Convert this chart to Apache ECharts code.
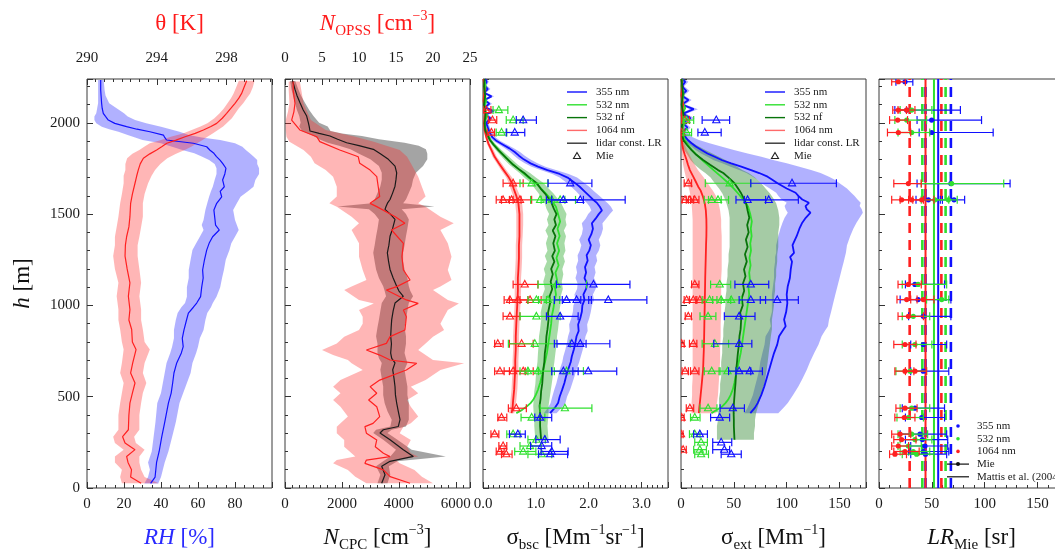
<!DOCTYPE html>
<html>
<head>
<meta charset="utf-8">
<script src="https://cdn.jsdelivr.net/npm/echarts@6/dist/echarts.min.js"></script>
<style>
html, body { margin: 0; padding: 0; background: #ffffff; }
#chart { width: 1055px; height: 553px; }
</style>
</head>
<body>
<div id="chart"></div>
<script>
// ---------- tick labels ----------
const heightTicks = [0, 500, 1000, 1500, 2000];
const rhTicks = [0, 20, 40, 60, 80];
const thetaTicks = [290, 294, 298];
const cpcTicks = [0, 2000, 4000, 6000];
const opssTicks = [0, 5, 10, 15, 20, 25];
const bscTicks = [0, 1, 2, 3];
const extTicks = [0, 50, 100, 150];
const lrTicks = [0, 50, 100, 150];

// ---------- meteorological profiles: [h, value, low, high] ----------
const rhProfile = [
  [25,34.4,31,38.5],[60,36.8,33,40],[100,37.2,34,41],[140,37.6,33,42],[200,39.0,35,44],
  [280,40.4,36,46],[360,42.0,37,48],[465,44.0,38,50],[520,45.5,40,52],[575,46.3,41,54],
  [630,47.0,42,56],[685,48.5,43,57],[740,51.0,45,59],[774,52.0,46,60],[820,51.5,47,61],
  [865,52.4,47,63],[920,53.8,48,64],[958,54.8,49,65],[990,57.5,51,67],[1013,59.3,53,68],
  [1048,61.4,54,70],[1100,62.0,54,72],[1150,62.8,55,73],[1194,62.5,55,74],[1250,63.5,56,75],
  [1303,64.7,57,77],[1340,66.0,59,78],[1376,67.9,61,80],[1413,71.5,63,82],[1440,69.5,62,81],
  [1468,69.2,63,80],[1522,68.6,64,79],[1559,70.1,65,81],[1595,72.8,66,83],[1625,72.0,67,87],
  [1650,74.2,68,90],[1687,73.3,69,91],[1720,74.5,70,93],[1751,75.1,70,93],[1775,73.5,69,92],
  [1796,71.9,66,92],[1815,70.0,62,90],[1833,68.6,58,88],[1850,66.5,52,86],[1869,64.7,46,84],
  [1888,57.5,40,80],[1906,43.0,30,72],[1920,42.0,26,62],[1933,41.3,22,55],[1951,34.0,17,50],
  [1965,27.0,12,45],[1979,21.4,8,40],[1997,15.0,5,32],[2015,11.5,4,26],[2035,10.0,4,22],
  [2052,8.8,5,20],[2080,8.2,5.5,16],[2107,7.9,6,12],[2150,7.6,6,10],[2180,7.4,6,9.5],[2234,7.4,6,9]
];
const thetaProfile = [
  [26,293.1,292.0,294.1],[60,292.5,291.9,293.3],[100,292.55,292.0,293.1],[140,292.35,291.6,293.0],
  [173,292.27,291.6,293.0],[210,292.75,292.1,293.3],[246,292.18,291.6,292.8],[281,292.04,291.5,292.7],
  [319,292.37,291.8,293.0],[400,292.4,291.8,293.0],[465,292.46,291.9,293.1],[520,292.6,292.0,293.2],
  [575,292.75,292.1,293.4],[630,292.5,291.9,293.2],[685,292.62,292.0,293.3],[758,292.81,292.1,293.6],
  [800,292.6,292.0,293.3],[868,292.56,291.9,293.2],[920,292.4,291.8,293.1],[977,292.46,291.8,293.1],
  [1050,292.37,291.7,293.0],[1124,292.46,291.8,293.1],[1200,292.3,291.6,293.0],[1270,292.18,291.5,292.9],
  [1330,292.2,291.6,292.9],[1376,292.27,291.6,293.0],[1430,292.4,291.7,293.1],[1486,292.46,291.8,293.2],
  [1559,292.5,291.9,293.2],[1610,292.6,292.0,293.3],[1669,292.75,292.1,293.5],[1710,292.85,292.1,293.7],
  [1742,292.94,292.2,293.9],[1775,293.05,292.2,294.2],[1806,293.23,292.3,294.6],[1830,293.6,292.6,295.1],
  [1851,293.99,293.0,295.6],[1870,294.3,293.3,296.0],[1888,294.57,293.6,296.3],[1905,295.1,294.2,296.6],
  [1924,295.62,294.8,296.9],[1942,296.2,295.5,297.2],[1961,296.67,296.0,297.5],[1980,297.1,296.5,297.8],
  [1997,297.43,296.9,298.0],[2025,297.75,297.3,298.3],[2052,298.0,297.6,298.5],[2080,298.25,297.85,298.7],
  [2107,298.48,298.05,298.95],[2135,298.7,298.25,299.15],[2161,298.86,298.4,299.35],[2195,299.0,298.55,299.5],
  [2230,299.15,298.7,299.6]
];
const cpcProfile = [
  [26,3397,3250,3600],[73,3514,3350,3700],[119,3397,3200,3650],[146,3690,3450,3950],[173,4509,3700,5650],
  [210,4157,3900,4450],[264,3690,3450,3950],[301,3338,3100,3600],[319,3455,3200,3750],[337,3982,3700,4250],
  [374,4041,3750,4350],[420,3980,3600,4350],[465,3924,3500,4350],[510,3880,3450,4300],[556,3865,3450,4300],
  [600,3830,3400,4250],[648,3784,3350,4200],[685,3865,3400,4300],[710,3750,3300,4250],[739,3713,3250,4200],
  [790,3740,3250,4250],[831,3713,3200,4250],[880,3730,3250,4200],[922,3749,3300,4250],[970,3800,3350,4300],
  [1013,3865,3400,4350],[1050,4157,3550,4500],[1080,4000,3500,4400],[1105,3924,3450,4350],[1150,3800,3300,4300],
  [1197,3690,3200,4200],[1240,3640,3150,4150],[1288,3596,3100,4150],[1330,3650,3150,4200],[1379,3690,3200,4250],
  [1420,3780,3250,4300],[1471,3865,3300,4350],[1500,3700,3150,4250],[1526,3514,2950,4100],[1542,3550,1850,5250],
  [1560,3600,3050,4150],[1580,3690,3150,4250],[1615,3780,3250,4350],[1653,3865,3350,4450],[1690,3900,3400,4500],
  [1726,3924,3400,4600],[1763,3865,3300,4850],[1800,3631,3000,5000],[1830,3350,2600,5000],[1855,3104,2300,4950],
  [1875,2600,1900,4700],[1891,2166,1500,4200],[1910,1850,1200,3300],[1928,1581,1000,2700],[1942,1200,800,2000],
  [1955,878,600,1600],[1980,850,500,1500],[2001,820,550,1200],[2037,761,500,1000],[2070,640,420,850],
  [2110,527,350,700],[2150,420,280,560],[2183,351,230,470],[2229,269,180,360]
];
const opssProfile = [
  [26,16.9,11,20],[62,14.2,9.5,18.5],[99,13.3,8.5,17.5],[135,10.8,6.5,15.5],[153,11.0,7,15],
  [172,14.2,9.5,18],[190,13.3,9,17],[226,12.2,8,16.5],[263,12.4,8,17],[300,11.0,7,15.5],
  [336,10.8,7,16],[354,11.9,7.5,17],[391,12.8,8.5,18],[445,12.4,7.5,17],[482,11.3,6.5,16.5],
  [519,12.4,7.5,18],[555,11.5,6.5,17],[591,12.8,7.5,19],[646,16.4,10.5,21],[683,17.8,9,24.2],
  [701,14.2,8.5,20],[728,12.8,6.5,19],[756,11.0,5,18],[792,13.7,7,19],[829,14.2,8,20],
  [865,16.2,10,21.5],[900,16.3,10.5,21],[938,16.4,10.5,21.5],[975,16.0,10,22],[1011,18.0,12,23.5],
  [1030,16.4,10,22],[1084,13.7,8,20],[1103,15.1,9,21],[1139,16.9,11,22.5],[1194,16.0,10.5,22],
  [1267,15.8,10,22.5],[1340,16.0,10,22],[1413,14.4,9,21],[1450,16.2,10,22.8],[1486,14.9,9,21],
  [1541,12.4,7,19],[1559,11.5,6,18],[1596,12.8,7,19],[1650,12.6,7,18.5],[1705,12.4,6.5,18],
  [1741,11.5,5.5,17.5],[1778,10.1,4,17],[1814,9.9,3.5,16.5],[1851,7.4,2.5,15.5],[1897,4.7,0.6,12],
  [1924,4.3,0.2,9.5],[1961,2.0,0.1,5.5],[2015,0.9,0.1,3.5],[2060,1.2,0.4,3],[2107,1.35,0.6,2.5],
  [2180,1.1,0.5,2.2],[2226,1.1,0.5,2]
];

// ---------- lidar backscatter [h, value, low, high] in Mm-1 sr-1 ----------
const bsc355 = [
  [410,1.27,1.15,1.39],[440,1.36,1.23,1.49],[465,1.42,1.28,1.56],[500,1.45,1.31,1.59],[540,1.50,1.35,1.65],
  [575,1.54,1.39,1.69],[610,1.57,1.42,1.73],[648,1.61,1.45,1.77],[690,1.66,1.50,1.82],[720,1.68,1.52,1.85],
  [760,1.72,1.56,1.89],[800,1.75,1.59,1.92],[831,1.77,1.61,1.94],[860,1.81,1.64,1.98],[895,1.80,1.63,1.97],
  [930,1.84,1.67,2.01],[965,1.87,1.70,2.04],[1000,1.88,1.71,2.06],[1030,1.92,1.75,2.10],[1060,1.90,1.73,2.08],
  [1090,1.95,1.78,2.13],[1120,1.97,1.79,2.15],[1150,1.92,1.75,2.10],[1180,1.95,1.78,2.13],[1210,1.93,1.76,2.11],
  [1245,1.98,1.80,2.16],[1275,1.96,1.79,2.14],[1300,2.01,1.83,2.19],[1330,2.04,1.86,2.22],[1360,2.00,1.82,2.19],
  [1390,2.05,1.87,2.24],[1420,2.08,1.89,2.27],[1450,2.06,1.87,2.26],[1475,2.13,1.94,2.33],[1500,2.19,1.99,2.40],
  [1520,2.25,2.05,2.46],[1540,2.21,2.02,2.42],[1560,2.16,1.97,2.36],[1580,2.08,1.90,2.28],[1600,2.01,1.84,2.20],
  [1625,1.92,1.76,2.10],[1650,1.83,1.67,2.01],[1675,1.72,1.57,1.90],[1700,1.60,1.45,1.78],[1720,1.45,1.31,1.62],
  [1741,1.22,1.09,1.38],[1760,1.04,0.92,1.18],[1778,0.90,0.79,1.03],[1800,0.77,0.67,0.89],[1820,0.68,0.59,0.79],
  [1840,0.60,0.51,0.70],[1860,0.50,0.42,0.59],[1880,0.38,0.31,0.46],[1900,0.26,0.20,0.33],[1920,0.18,0.13,0.24],
  [1945,0.13,0.09,0.18],[1975,0.09,0.05,0.13],[2000,0.06,0.02,0.10],[2025,0.14,0.09,0.19],[2045,0.05,0.01,0.09],
  [2065,0.20,0.14,0.26],[2085,0.04,0.00,0.08],[2105,0.12,0.07,0.17],[2125,0.03,0.00,0.07],[2145,0.16,0.11,0.21],
  [2165,0.02,0.00,0.06],[2185,0.09,0.04,0.14],[2205,0.03,0.00,0.07],[2225,0.07,0.03,0.11],[2240,0.04,0.00,0.08]
];
const bsc532nf = [
  [264,1.10,0.99,1.24],[300,1.09,0.98,1.23],[340,1.08,0.97,1.22],[374,1.08,0.97,1.23],[410,1.08,0.96,1.24],
  [450,1.07,0.95,1.24],[490,1.09,0.96,1.26],[530,1.10,0.97,1.28],[570,1.12,0.99,1.30],[610,1.13,1.00,1.32],
  [648,1.14,1.01,1.33],[690,1.16,1.03,1.35],[739,1.17,1.04,1.37],[780,1.19,1.05,1.39],[831,1.20,1.06,1.40],
  [870,1.22,1.08,1.42],[922,1.24,1.10,1.44],[960,1.23,1.09,1.44],[1013,1.27,1.13,1.47],[1050,1.26,1.12,1.47],
  [1090,1.31,1.17,1.51],[1130,1.28,1.14,1.49],[1170,1.32,1.18,1.52],[1200,1.29,1.15,1.50],[1240,1.35,1.21,1.55],
  [1270,1.31,1.17,1.52],[1300,1.36,1.22,1.56],[1340,1.33,1.19,1.54],[1379,1.37,1.23,1.57],[1410,1.32,1.18,1.53],
  [1440,1.38,1.24,1.58],[1471,1.35,1.21,1.56],[1500,1.39,1.25,1.58],[1530,1.34,1.20,1.53],[1559,1.30,1.17,1.48],
  [1585,1.24,1.11,1.41],[1614,1.17,1.05,1.33],[1640,1.09,0.98,1.24],[1669,1.02,0.91,1.15],[1700,0.88,0.78,1.00],
  [1725,0.78,0.69,0.89],[1741,0.70,0.62,0.80],[1770,0.57,0.50,0.66],[1796,0.48,0.41,0.56],[1825,0.38,0.32,0.45],
  [1851,0.29,0.24,0.35],[1880,0.20,0.16,0.25],[1906,0.13,0.10,0.17],[1935,0.08,0.05,0.11],[1961,0.04,0.02,0.07],
  [2000,0.03,0.01,0.05],[2050,0.05,0.02,0.08],[2100,0.02,0.00,0.04],[2150,0.04,0.01,0.07],[2200,0.02,0.00,0.04],
  [2240,0.03,0.01,0.05]
];
const bsc532 = [
  [410,0.63],[428,0.74],[447,0.83],[465,0.90],[483,0.95],[510,1.00],[538,1.04],[575,1.08],[620,1.12],
  [660,1.15],[700,1.18],[740,1.21],[780,1.23],[820,1.25],[860,1.27],[900,1.29],[940,1.30],[980,1.33],
  [1020,1.35],[1060,1.38],[1100,1.36],[1140,1.40],[1180,1.37],[1220,1.43],[1260,1.39],[1300,1.44],
  [1340,1.40],[1380,1.45],[1420,1.41],[1460,1.46],[1500,1.42],[1540,1.38],[1575,1.30],[1610,1.20],
  [1640,1.10],[1669,1.00],[1700,0.86],[1730,0.74],[1760,0.62],[1790,0.50],[1820,0.40],[1850,0.30],
  [1880,0.21],[1906,0.14],[1935,0.09],[1965,0.05],[2000,0.03],[2040,0.08],[2080,0.02],[2120,0.06],
  [2160,0.02],[2200,0.05],[2240,0.02]
];
const bsc1064 = [
  [410,0.54,0.49,0.59],[440,0.56,0.51,0.61],[480,0.57,0.52,0.63],[540,0.59,0.54,0.65],[600,0.60,0.55,0.66],
  [648,0.61,0.56,0.67],[700,0.61,0.56,0.67],[760,0.62,0.57,0.68],[831,0.62,0.57,0.68],[900,0.63,0.58,0.69],
  [960,0.64,0.59,0.70],[1013,0.65,0.60,0.71],[1080,0.66,0.60,0.72],[1150,0.66,0.60,0.72],[1197,0.67,0.61,0.73],
  [1260,0.68,0.62,0.74],[1330,0.68,0.62,0.74],[1379,0.69,0.63,0.75],[1440,0.69,0.63,0.76],[1500,0.69,0.63,0.76],
  [1559,0.67,0.61,0.74],[1600,0.63,0.57,0.70],[1640,0.58,0.52,0.64],[1669,0.55,0.49,0.61],[1700,0.49,0.44,0.55],
  [1741,0.39,0.34,0.44],[1778,0.30,0.26,0.35],[1814,0.22,0.18,0.26],[1851,0.16,0.13,0.20],[1888,0.10,0.07,0.13],
  [1924,0.06,0.04,0.08],[1961,0.03,0.01,0.05],[2000,0.02,0.00,0.04],[2060,0.04,0.02,0.06],[2120,0.01,0.00,0.03],
  [2180,0.03,0.01,0.05],[2240,0.01,0.00,0.03]
];

// ---------- lidar extinction [h, value, low, high] in Mm-1 ----------
const ext355 = [
  [410,65.6,60,92],[440,70.0,63,97],[465,72.5,65,101],[510,76.0,68,106],[556,78.8,70,111],[600,81.0,72,115],
  [648,83.4,74,119],[690,85.5,75,122],[739,88.0,77,126],[785,91.0,79,130],[831,92.8,80,133],[860,96.0,83,136],
  [886,99.0,85,139],[922,97.5,84,140],[965,99.5,86,142],[1013,100.6,86,144],[1060,100.0,86,146],[1105,101.0,87,148],
  [1150,103.0,88,150],[1197,103.8,88,152],[1240,105.0,89,154],[1265,103.2,89,155],[1288,106.9,90,156],[1330,105.5,90,157],
  [1379,109.4,92,160],[1420,112.0,94,163],[1453,114.7,96,166],[1480,118.0,98,169],[1508,122.5,101,172],[1526,119.0,99,171],
  [1544,117.8,98,169],[1562,121.0,100,170],[1580,114.7,95,167],[1600,111.0,92,164],[1617,108.4,90,161],[1640,100.0,84,157],
  [1669,91.3,76,150],[1690,86.0,72,145],[1705,81.9,68,140],[1725,74.0,62,132],[1741,66.3,55,123],[1760,57.0,47,112],
  [1778,47.5,39,100],[1795,39.0,31,88],[1814,31.9,25,76],[1832,25.0,19,63],[1851,19.4,14,50],[1870,14.0,10,38],
  [1888,10.0,6,27],[1906,6.5,3,17],[1924,3.8,1,10],[1950,2.0,0,5],[1975,6.0,2,9],[2000,1.5,0,4],
  [2025,9.0,5,13],[2050,2.0,0,5],[2075,12.0,8,16],[2100,1.0,0,4],[2125,7.0,3,10],[2150,0.5,0,3],
  [2175,5.0,2,8],[2200,1.0,0,3],[2225,4.0,1,7],[2240,1.0,0,3]
];
const ext532nf = [
  [264,50.6,34,69],[300,50.3,34,69],[340,50.0,34,70],[374,50.0,35,70],[410,49.8,35,71],[450,49.9,36,73],
  [490,50.4,36,75],[530,50.9,37,77],[570,51.5,37,79],[610,51.9,38,80],[648,52.2,38,81],[690,53.0,38,82],
  [739,53.8,39,83],[785,54.8,39,84],[831,55.3,40,85],[870,56.4,40,86],[922,56.9,41,86],[960,56.0,41,87],
  [1000,58.4,42,88],[1040,57.5,42,88],[1080,59.8,43,89],[1120,58.6,43,89],[1160,61.0,44,90],[1197,59.6,44,90],
  [1240,62.2,45,91],[1280,60.5,45,91],[1320,63.0,46,92],[1360,61.4,46,92],[1400,64.0,46,92],[1440,62.6,46,93],
  [1480,64.6,46,93],[1520,63.0,45,92],[1559,61.6,43,90],[1590,59.0,41,87],[1614,56.9,39,84],[1640,54.0,36,80],
  [1669,50.6,32,76],[1700,45.0,28,70],[1725,40.0,23,64],[1741,35.0,19,58],[1770,27.5,13,50],[1796,20.9,9,42],
  [1825,14.5,6,32],[1851,10.0,3,23],[1880,5.5,1,14],[1906,2.2,0,7],[1940,1.0,0,4],[1980,0.8,0,3],
  [2040,2.5,0.5,5],[2100,0.6,0,2.5],[2160,1.8,0.3,3.5],[2240,0.5,0,2]
];
const ext532 = [
  [410,28.8],[428,34],[447,39],[465,42],[483,44.5],[510,47],[540,49],[575,50.5],[620,52],[660,53.5],
  [700,55],[740,56.5],[780,57.5],[820,58.5],[860,59.5],[900,60.5],[940,61.5],[980,62.5],[1020,63.5],
  [1060,64.5],[1100,63.8],[1140,65.2],[1180,64.5],[1220,65.8],[1260,64.8],[1300,66.2],[1340,65.5],
  [1380,66.8],[1420,66],[1460,67],[1500,65.5],[1540,63.5],[1575,59.5],[1610,54.5],[1640,50],[1669,45],
  [1700,39],[1730,33],[1760,27],[1790,21],[1820,15.5],[1850,10.5],[1880,6.5],[1906,3.5],[1935,1.8],
  [1965,1],[2000,3.5],[2040,0.5],[2080,4],[2120,1],[2160,2.5],[2200,0.5],[2240,1.5]
];
const ext1064 = [
  [410,16.9,10,33],[440,17.3,10,33.5],[465,17.8,10,34],[510,18.6,10.5,35],[556,19.4,10.5,35.5],[600,20.1,11,36],
  [648,20.9,11,36.5],[700,21.2,11,37],[760,21.6,11,37],[831,21.9,11,37.5],[900,22.1,11,37.5],[960,22.3,11,38],
  [1013,22.5,11,38],[1080,22.7,11,38],[1150,22.9,11,38],[1197,23.1,11,38.5],[1260,23.4,11,38.5],[1330,23.7,11,38.5],
  [1379,24.0,11,38.5],[1430,24.1,11,38],[1471,24.0,11,38],[1520,23.5,10.5,37],[1559,22.5,10,35.5],[1600,20.5,9,33],
  [1630,18.5,8,30],[1650,16.3,7,27.5],[1680,13.8,5.5,24],[1705,11.6,4.5,21],[1741,8.4,3,16],[1770,6.6,2,13],
  [1796,5.3,1.5,10.5],[1825,3.6,1,8],[1851,2.2,0.5,5.5],[1880,1.2,0,3.5],[1906,0.6,0,2],[1950,0.4,0,1.5],
  [2000,1.5,0,3],[2050,0.5,0,2],[2100,2.0,0.5,3.5],[2150,0.3,0,1.5],[2200,1.2,0,2.5],[2240,0.5,0,1.5]
];

// ---------- Mie calculations [h, value, low, high] ----------
const mieBsc355 = [
  [2015,0.76,0.63,1.01],[1947,0.60,0.44,0.79],[1669,1.65,1.23,2.06],[1578,1.52,1.20,1.90],[1578,1.84,1.30,2.69],
  [1115,2.09,1.39,2.78],[1030,1.58,1.35,1.85],[1030,1.77,1.50,2.05],[1030,2.37,2.00,3.10],[940,1.46,1.20,1.80],
  [790,1.68,1.40,1.95],[790,1.84,1.35,2.40],[640,1.52,1.30,1.80],[640,1.99,1.70,2.53],[386,1.08,0.98,1.30],
  [295,0.66,0.50,0.80],[265,1.17,1.00,1.46],[230,1.11,0.90,1.30],[200,1.30,1.10,1.61],[185,1.27,1.05,1.60]
];
const mieBsc532 = [
  [2070,0.30,0.19,0.47],[2015,0.57,0.44,0.76],[1947,0.35,0.25,0.45],[1669,0.92,0.70,1.23],[1578,1.08,0.90,1.30],
  [1578,1.30,1.10,1.55],[1578,1.46,1.20,1.75],[1115,1.39,1.04,1.96],[1030,1.01,0.85,1.20],[1030,1.23,1.05,1.45],
  [940,1.01,0.70,1.46],[790,0.98,0.48,1.65],[640,0.85,0.70,1.05],[640,1.04,0.85,1.30],[640,1.58,1.35,1.90],
  [437,1.55,1.08,2.06],[386,0.92,0.72,1.17],[295,0.57,0.45,0.70],[265,1.01,0.85,1.18],[230,0.89,0.70,1.10],
  [200,0.76,0.60,1.00],[185,1.11,0.85,1.30]
];
const mieBsc1064 = [
  [2070,0.06,0.00,0.15],[2015,0.18,0.10,0.26],[1947,0.16,0.08,0.22],[1669,0.57,0.38,0.76],[1578,0.38,0.25,0.57],
  [1578,0.54,0.35,0.72],[1578,0.70,0.50,0.92],[1115,0.79,0.57,1.04],[1030,0.51,0.40,0.65],[1030,0.66,0.50,0.85],
  [1030,0.89,0.70,1.10],[940,0.51,0.38,0.70],[790,0.28,0.22,0.38],[790,0.73,0.50,0.95],[640,0.32,0.22,0.50],
  [640,0.57,0.40,0.80],[640,0.76,0.60,0.95],[437,0.63,0.48,0.82],[386,0.35,0.28,0.45],[295,0.22,0.15,0.30],
  [230,0.38,0.30,0.45],[200,0.32,0.25,0.40],[185,0.44,0.35,0.55]
];
const mieExt355 = [
  [2015,33.4,20,46],[1947,22.5,16,38],[1669,105,66,147],[1578,63,52,80],[1578,83,60,111],[1115,66,51,83],
  [1030,66,55,80],[1030,91,75,111],[940,55,41,70],[790,55,31,67],[640,55,45,66],[640,65,52,77],
  [437,49,37,60],[386,36.6,28,46],[295,17.8,12,25],[250,38,30,48],[210,41,30,46],[185,47.5,38,57]
];
const mieExt532 = [
  [2015,5.3,2,12],[1947,5.3,2,10],[1669,46,23,66],[1578,29,22,38],[1578,35,26,45],[1115,36.6,28,47],
  [1030,27,20,34],[1030,38,30,47],[1030,47.5,38,57],[940,25.6,18,33],[790,32,20,45],[640,29,22,37],
  [640,44,36,52],[437,25.6,18,34],[386,13,9,18],[295,13,8,18],[250,19,13,25],[210,17.8,12,24],[185,19,13,26]
];
const mieExt1064 = [
  [2015,3.8,1,8],[1947,0.6,0,3],[1669,6.9,3,10],[1578,3.8,1,7],[1578,8.4,5,12],[1578,13,9,17],
  [1115,13,10,17],[1030,5.3,3,8],[1030,11.6,8,15],[1030,17.8,14,22],[940,6.9,4,10],[790,0.6,0,3],
  [790,11.6,8,15],[640,3.8,1,7],[640,13,9,17],[437,8.4,5,12],[386,0.6,0,3],[295,0,0,2],[210,2,0,5]
];
const mieLR355 = [
  [2225,24.6,16,32],[2070,26.2,15,77],[2015,49.8,36,97],[1947,49.8,38,108],[1667,68,36,124],[1578,46.7,35,60],
  [1578,71,58,81],[1115,34,25,62],[1032,37,20,68],[940,41.9,28,68],[786,41.9,30,64],[640,41.9,30,66],
  [437,34,22,62],[386,40.4,25,62],[295,38.8,20,64],[265,41,25,65],[230,43.5,30,65],[200,41.9,28,66],[185,44,30,64]
];
const mieLR532 = [
  [2070,30.9,20,50],[2015,26.2,15,45],[1947,30.9,18,48],[1667,68.7,40,118],[1578,52.9,40,66],[1578,65.6,52,74],
  [1115,37,22,64],[1032,59.3,45,66],[940,32.4,22,48],[786,34,22,50],[640,29.5,16,45],[437,30.9,20,48],
  [386,27.8,17,42],[295,30.9,18,46],[265,34,20,50],[230,27.8,18,40],[200,32.4,20,48],[185,35.6,22,52]
];
const mieLR1064 = [
  [2225,18.3,12,25],[2070,18.3,13,26],[2070,26.2,18,34],[2015,17.7,10,27],[1947,18.3,8,30],[1667,27.8,14,40],
  [1578,21.4,12,32],[1578,30.9,20,42],[1578,40.4,28,52],[1115,27.8,18,40],[1032,26.2,17,36],[1032,41.9,30,52],
  [940,27.8,18,42],[786,24.6,14,35],[640,24.6,15,33],[640,34,25,45],[437,24.6,16,36],[386,23.9,15,34],
  [295,19.9,12,30],[265,21.4,14,35],[230,18.3,12,28],[200,24.6,14,38],[185,15.1,10,26]
];

// Mattis et al. (2004) lidar ratios for 355, 532, 1064 nm: mean and standard deviation
const mattisMean = [56, 52, 44];
const mattisStd = [12, 11, 15];

// legend texts
const lidarLegendLabels = ['355 nm', '532 nm', '532 nf', '1064 nm', 'lidar const. LR', 'Mie'];
const lrLegendLabels = ['355 nm', '532 nm', '1064 nm', 'Mie', 'Mattis et al. (2004)'];

// ---------- layout & style ----------
const FONT = '"Liberation Serif", "DejaVu Serif", serif';
const H_MAX = 2240;
const GRID = { left: 87, step: 198, top: 79, width: 185, height: 409 };
const C = {
  blue: '#1010ff', green: '#2fe02f', dgreen: '#08740a', red: '#ff2020', black: '#111111',
  blueBand: 'rgba(70,70,255,0.42)', redBand: 'rgba(255,40,40,0.34)', grayBand: 'rgba(90,90,90,0.55)',
  greenBand: 'rgba(20,160,20,0.38)', greenBand2: 'rgba(40,130,40,0.42)', redBand2: 'rgba(255,60,60,0.36)'
};

const labelStyle = { fontFamily: FONT, fontSize: 15, color: '#1a1a1a' };
const tickStyle = { color: '#333', width: 1 };

function richName(color) {
  return {
    fontFamily: FONT, color: color,
    rich: {
      t: { fontFamily: FONT, fontSize: 23, color: color, lineHeight: 30 },
      i: { fontFamily: FONT, fontSize: 23, color: color, fontStyle: 'italic', lineHeight: 30 },
      sub: { fontFamily: FONT, fontSize: 15, color: color, verticalAlign: 'bottom', lineHeight: 17 },
      sup: { fontFamily: FONT, fontSize: 14, color: color, verticalAlign: 'top', lineHeight: 13 }
    }
  };
}
// only the listed tick values carry a label
function onlyTicks(ticks, fmt) {
  return function (v) {
    for (let k = 0; k < ticks.length; k++) if (Math.abs(ticks[k] - v) < 1e-9) return fmt(v);
    return '';
  };
}

const grids = [];
for (let i = 0; i < 5; i++) {
  grids.push({
    left: GRID.left + i * GRID.step, top: GRID.top, width: GRID.width, height: GRID.height,
    show: true, borderColor: '#3a3a3a', borderWidth: 1, backgroundColor: 'transparent',
    containLabel: false, outerBoundsMode: 'none'
  });
}

const xAxes = [], yAxes = [];
function addAxis(list, cfg) { list.push(cfg); return list.length - 1; }

function makeX(grid, position, s, nameGap, margin) {
  return addAxis(xAxes, {
    type: 'value', gridIndex: grid, position: position, min: s.min, max: s.max, interval: s.interval,
    axisLine: { show: false, onZero: false }, splitLine: { show: false },
    axisTick: { show: true, inside: true, length: 6, lineStyle: tickStyle },
    minorTick: { show: true, splitNumber: s.split, length: 3, lineStyle: tickStyle },
    minorSplitLine: { show: false },
    axisLabel: Object.assign({ show: true, margin: margin, showMinLabel: true, showMaxLabel: true,
      hideOverlap: false, formatter: onlyTicks(s.ticks, s.fmt) }, labelStyle),
    name: s.name, nameLocation: 'middle', nameGap: nameGap, nameMoveOverlap: false,
    nameTextStyle: richName(s.color)
  });
}

// bottom axes
const bottomSpec = [
  { min: 0, max: 100, interval: 20, split: 4, ticks: rhTicks, fmt: v => String(v),
    name: '{i|RH}{t| [%]}', color: '#2a2aff' },
  { min: 0, max: 6500, interval: 2000, split: 8, ticks: cpcTicks, fmt: v => String(v),
    name: '{i|N}{sub|CPC}{t| [cm}{sup|−3}{t|]}', color: '#111' },
  { min: 0, max: 3.5, interval: 1, split: 10, ticks: bscTicks, fmt: v => v.toFixed(1),
    name: '{t|σ}{sub|bsc}{t| [Mm}{sup|−1}{t|sr}{sup|−1}{t|]}', color: '#111' },
  { min: 0, max: 175, interval: 50, split: 5, ticks: extTicks, fmt: v => String(v),
    name: '{t|σ}{sub|ext}{t| [Mm}{sup|−1}{t|]}', color: '#111' },
  { min: 0, max: 175, interval: 50, split: 5, ticks: lrTicks, fmt: v => String(v),
    name: '{i|LR}{sub|Mie}{t| [sr]}', color: '#111' }
];
const P = [];
bottomSpec.forEach((s, i) => { P.push({ x: makeX(i, 'bottom', s, 35, 9) }); });
// top axes (potential temperature, OPSS number concentration)
P[0].xTop = makeX(0, 'top', { min: 290, max: 300.6, interval: 4, split: 8, ticks: thetaTicks,
  fmt: v => String(v), name: '{t|θ [K]}', color: '#ff1a1a' }, 40, 13);
P[1].xTop = makeX(1, 'top', { min: 0, max: 25, interval: 5, split: 5, ticks: opssTicks,
  fmt: v => String(v), name: '{i|N}{sub|OPSS}{t| [cm}{sup|−3}{t|]}', color: '#ff1a1a' }, 40, 13);

// height axes
for (let i = 0; i < 5; i++) {
  P[i].y = addAxis(yAxes, {
    type: 'value', gridIndex: i, position: 'left', min: 0, max: H_MAX, interval: 500,
    axisLine: { show: false, onZero: false }, splitLine: { show: false },
    axisTick: { show: true, inside: true, length: 6, lineStyle: tickStyle },
    minorTick: { show: true, splitNumber: 5, length: 3, lineStyle: tickStyle },
    minorSplitLine: { show: false },
    axisLabel: Object.assign({ show: i === 0, margin: 7,
      formatter: onlyTicks(heightTicks, v => String(v)) }, labelStyle),
    name: i === 0 ? '{i|h}{t| [m]}' : '', nameLocation: 'middle', nameGap: 49, nameRotate: 90,
    nameMoveOverlap: false, nameTextStyle: richName('#111')
  });
}

// ---------- series builders ----------
const series = [];
function bandSeries(xi, yi, rows, fill, z) {
  series.push({
    type: 'custom', xAxisIndex: xi, yAxisIndex: yi, clip: true, silent: true, z: z,
    data: [[rows[0][1], rows[0][0]]],
    renderItem: function (params, api) {
      const pts = [];
      for (let k = 0; k < rows.length; k++) pts.push(api.coord([rows[k][2], rows[k][0]]));
      for (let k = rows.length - 1; k >= 0; k--) pts.push(api.coord([rows[k][3], rows[k][0]]));
      return { type: 'polygon', shape: { points: pts }, style: { fill: fill } };
    }
  });
}
function lineSeries(xi, yi, data, color, width, z, dash) {
  series.push({
    type: 'line', xAxisIndex: xi, yAxisIndex: yi, data: data, symbol: 'none', showSymbol: false,
    lineStyle: { color: color, width: width, type: dash || 'solid' }, clip: true, silent: true, z: z
  });
}
function profileLine(xi, yi, rows, color, width, z) {
  lineSeries(xi, yi, rows.map(r => [r[1], r[0]]), color, width, z);
}
function mieSeries(xi, yi, rows, color, marker, z) {
  series.push({
    type: 'custom', xAxisIndex: xi, yAxisIndex: yi, clip: true, silent: true, z: z,
    data: rows.map(r => [r[1], r[0], r[2], r[3]]),
    encode: { x: [0, 2, 3], y: 1 },
    renderItem: function (params, api) {
      const h = api.value(1);
      const c = api.coord([api.value(0), h]);
      const a = api.coord([api.value(2), h]);
      const b = api.coord([api.value(3), h]);
      const st = () => ({ stroke: color, lineWidth: 1.2, fill: null });
      const kids = [
        { type: 'line', shape: { x1: a[0], y1: a[1], x2: b[0], y2: b[1] }, style: st() },
        { type: 'line', shape: { x1: a[0], y1: a[1] - 4, x2: a[0], y2: a[1] + 4 }, style: st() },
        { type: 'line', shape: { x1: b[0], y1: b[1] - 4, x2: b[0], y2: b[1] + 4 }, style: st() }
      ];
      if (marker === 'triangle') {
        kids.push({ type: 'polygon', shape: { points: [[c[0], c[1] - 4], [c[0] - 3.6, c[1] + 2.6], [c[0] + 3.6, c[1] + 2.6]] },
          style: { stroke: color, lineWidth: 1.1, fill: 'rgba(255,255,255,0)' } });
      } else {
        kids.push({ type: 'circle', shape: { cx: c[0], cy: c[1], r: 2.6 }, style: { fill: color } });
      }
      return { type: 'group', children: kids };
    }
  });
}

// panel 1: relative humidity and potential temperature
bandSeries(P[0].x, P[0].y, rhProfile, C.blueBand, 1);
bandSeries(P[0].xTop, P[0].y, thetaProfile, C.redBand, 2);
profileLine(P[0].x, P[0].y, rhProfile, C.blue, 1.2, 4);
profileLine(P[0].xTop, P[0].y, thetaProfile, C.red, 1.2, 4);

// panel 2: CPC and OPSS particle number concentration
bandSeries(P[1].x, P[1].y, cpcProfile, C.grayBand, 1);
bandSeries(P[1].xTop, P[1].y, opssProfile, C.redBand, 2);
profileLine(P[1].x, P[1].y, cpcProfile, '#1a1a1a', 1.2, 4);
profileLine(P[1].xTop, P[1].y, opssProfile, C.red, 1.2, 4);

// panel 3: backscatter coefficients
bandSeries(P[2].x, P[2].y, bsc355, C.blueBand, 1);
bandSeries(P[2].x, P[2].y, bsc532nf, C.greenBand, 2);
bandSeries(P[2].x, P[2].y, bsc1064, C.redBand2, 2);
profileLine(P[2].x, P[2].y, bsc355, C.blue, 1.8, 4);
lineSeries(P[2].x, P[2].y, bsc532.map(r => [r[1], r[0]]), C.green, 1.8, 4);
profileLine(P[2].x, P[2].y, bsc532nf, C.dgreen, 1.8, 5);
profileLine(P[2].x, P[2].y, bsc1064, C.red, 1.8, 4);
mieSeries(P[2].x, P[2].y, mieBsc1064, C.red, 'triangle', 6);
mieSeries(P[2].x, P[2].y, mieBsc532, C.green, 'triangle', 6);
mieSeries(P[2].x, P[2].y, mieBsc355, C.blue, 'triangle', 6);

// panel 4: extinction coefficients
bandSeries(P[3].x, P[3].y, ext355, C.blueBand, 1);
bandSeries(P[3].x, P[3].y, ext532nf, C.greenBand2, 2);
bandSeries(P[3].x, P[3].y, ext1064, C.redBand2, 2);
profileLine(P[3].x, P[3].y, ext355, C.blue, 1.8, 4);
lineSeries(P[3].x, P[3].y, ext532.map(r => [r[1], r[0]]), C.green, 1.8, 4);
profileLine(P[3].x, P[3].y, ext532nf, C.dgreen, 1.8, 5);
profileLine(P[3].x, P[3].y, ext1064, C.red, 1.8, 4);
mieSeries(P[3].x, P[3].y, mieExt1064, C.red, 'triangle', 6);
mieSeries(P[3].x, P[3].y, mieExt532, C.green, 'triangle', 6);
mieSeries(P[3].x, P[3].y, mieExt355, C.blue, 'triangle', 6);

// panel 5: lidar ratio, Mattis et al. (2004) mean +/- std as reference lines
const lrColors = [C.blue, C.green, C.red];
mattisMean.forEach((m, k) => {
  lineSeries(P[4].x, P[4].y, [[m, 0], [m, H_MAX]], lrColors[k], 2, 3);
  lineSeries(P[4].x, P[4].y, [[m - mattisStd[k], 0], [m - mattisStd[k], H_MAX]], lrColors[k], 2.6, 2, [10, 7]);
  lineSeries(P[4].x, P[4].y, [[m + mattisStd[k], 0], [m + mattisStd[k], H_MAX]], lrColors[k], 2.6, 2, [10, 7]);
});
mieSeries(P[4].x, P[4].y, mieLR355, C.blue, 'dot', 6);
mieSeries(P[4].x, P[4].y, mieLR532, C.green, 'dot', 6);
mieSeries(P[4].x, P[4].y, mieLR1064, C.red, 'dot', 6);

// ---------- legends ----------
const graphics = [];
const legText = (txt, x, y) => ({ type: 'text', silent: true, z: 20,
  style: { text: txt, x: x, y: y, fill: '#1a1a1a', fontFamily: FONT, fontSize: 11, verticalAlign: 'middle' } });
const legLine = (x1, x2, y, color, w) => ({ type: 'line', silent: true, z: 20,
  shape: { x1: x1, y1: y, x2: x2, y2: y }, style: { stroke: color, lineWidth: w } });
const lidarLegendColors = [C.blue, C.green, C.dgreen, '#ff6a6a', '#333'];
[2, 3].forEach(p => {
  const x0 = GRID.left + p * GRID.step + 84;
  lidarLegendLabels.forEach((lab, k) => {
    const y = 92 + k * 12.8;
    if (k < 5) graphics.push(legLine(x0, x0 + 20, y, lidarLegendColors[k], 1.4));
    else graphics.push({ type: 'polygon', silent: true, z: 20,
      shape: { points: [[x0 + 10, y - 3.5], [x0 + 6.5, y + 2.5], [x0 + 13.5, y + 2.5]] },
      style: { stroke: '#222', lineWidth: 1.1, fill: 'rgba(255,255,255,0)' } });
    graphics.push(legText(lab, x0 + 29, y));
  });
});
{
  const x0 = 947, dotX = 958;
  const dotColors = [C.blue, C.green, C.red];
  lrLegendLabels.forEach((lab, k) => {
    const y = 426 + k * 12.7;
    if (k < 3) graphics.push({ type: 'circle', silent: true, z: 20, shape: { cx: dotX, cy: y, r: 1.8 }, style: { fill: dotColors[k] } });
    else if (k === 3) {
      graphics.push(legLine(x0, x0 + 22, y, '#111', 1.2));
      graphics.push({ type: 'circle', silent: true, z: 20, shape: { cx: dotX, cy: y, r: 2 }, style: { fill: '#111' } });
    } else graphics.push(legLine(x0, x0 + 22, y, '#111', 1.2));
    graphics.push(legText(lab, 977, y));
  });
}

const chart = echarts.init(document.getElementById('chart'), null, { renderer: 'canvas' });
chart.setOption({
  animation: false,
  backgroundColor: '#ffffff',
  textStyle: { fontFamily: FONT },
  grid: grids,
  xAxis: xAxes,
  yAxis: yAxes,
  series: series,
  graphic: graphics
});
</script>
</body>
</html>
